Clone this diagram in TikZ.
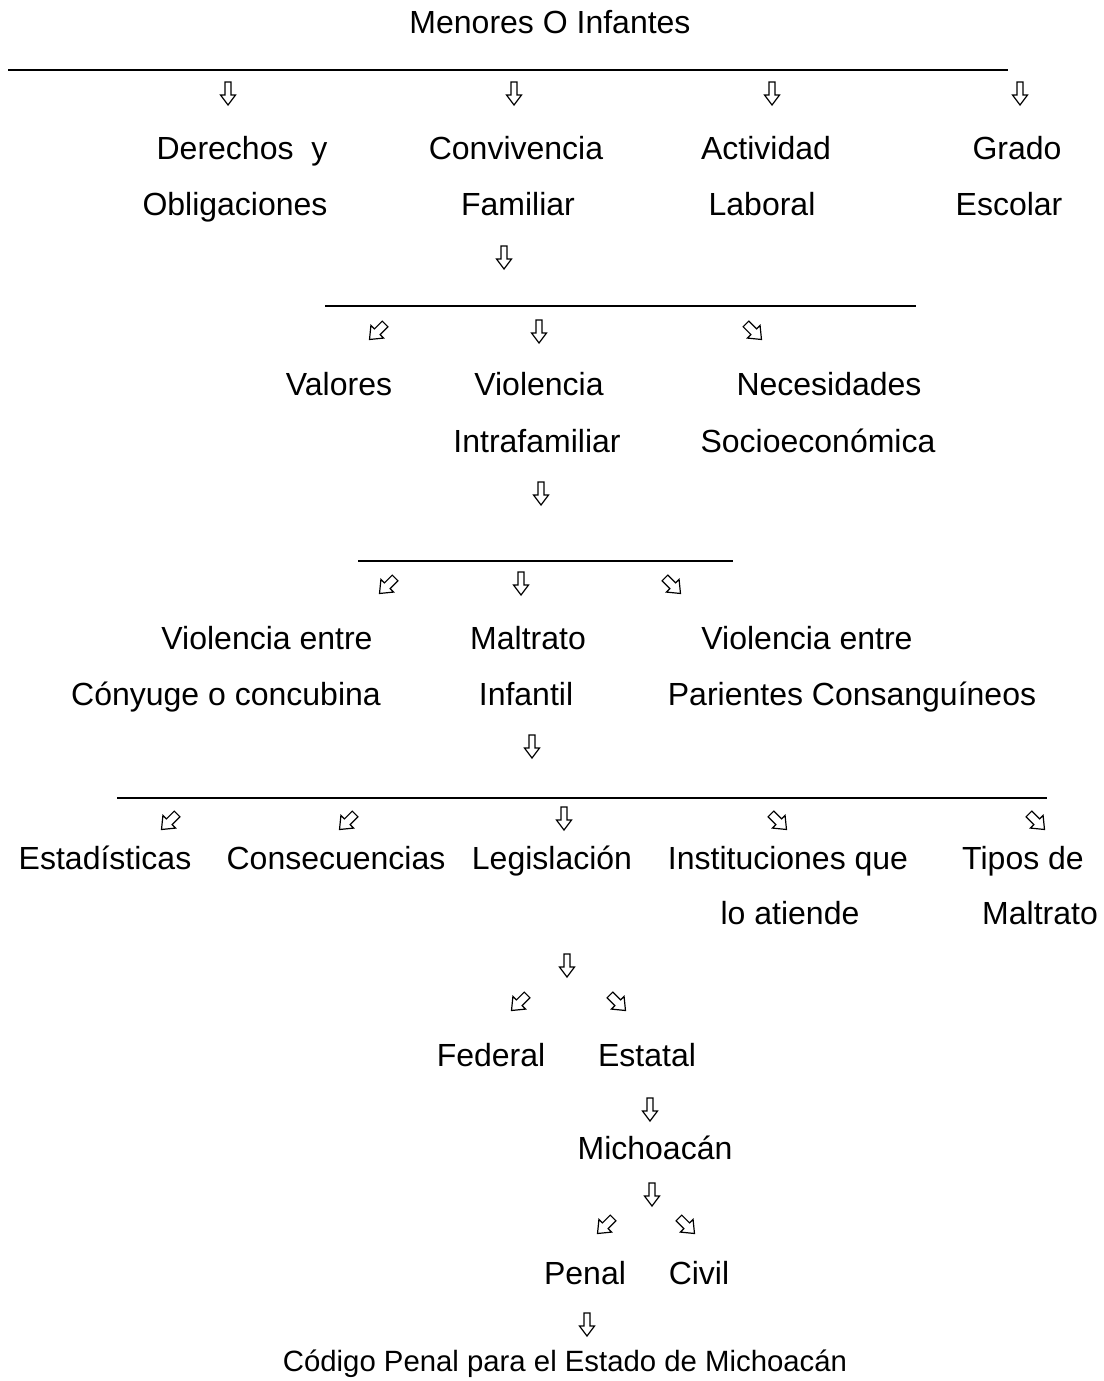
\documentclass[tikz,border=0pt]{standalone}
\usepackage{fontspec}
\setmainfont{Liberation Sans}
\usetikzlibrary{positioning}
\tikzset{
  txt/.style={anchor=base,inner sep=0pt,font=\fontsize{12}{14}\selectfont},
  raya/.style={line width=.6pt},
  flecha/.pic={\draw[line width=.45pt,line join=miter] (-3,-11)--(3,-11)--(3,2)--(7.5,2)--(0,12)--(-7.5,2)--(-3,2)--cycle;},
  flechad/.pic={\draw[line width=.45pt,line join=miter] (-4,-10)--(4,-10)--(4,1)--(9,1)--(0,12)--(-9,1)--(-4,1)--cycle;},
}
\begin{document}
\begin{tikzpicture}[x=0.375pt,y=-0.375pt]
\useasboundingbox (0,0) rectangle (1103,1381);
% nivel 1
\node[txt] (menores) at (550,33) {Menores O Infantes};
\coordinate (r1a) at (8,70);
\coordinate (r1b) at (1008,70);
\draw[raya] (r1a)--(r1b);
\foreach \x in {228,514,772,1020} \pic at (\x,93) {flecha};
\node[txt] (derechos) at (242,159) {Derechos\ \ y};
\node[txt] (obligaciones) at (235,215) {Obligaciones};
\node[txt] (convivencia) at (516,159) {Convivencia};
\node[txt] (familiar) at (518,215) {Familiar};
\node[txt] (actividad) at (766,159) {Actividad};
\node[txt] (laboral) at (762,215) {Laboral};
\node[txt] (grado) at (1017,159) {Grado};
\node[txt] (escolar) at (1009,215) {Escolar};
% nivel 2
\pic at (504,257) {flecha};
\coordinate (r2a) at (325,306);
\coordinate (r2b) at (916,306);
\draw[raya] (r2a)--(r2b);
\pic[rotate=-45] at (378,331) {flechad};
\pic at (539,331) {flecha};
\pic[rotate=45] at (753,331) {flechad};
\node[txt] (valores) at (339,395) {Valores};
\node[txt] (violencia) at (539,395) {Violencia};
\node[txt] (intrafamiliar) at (537,452) {Intrafamiliar};
\node[txt] (necesidades) at (829,395) {Necesidades};
\node[txt] (socioeco) at (818,452) {Socioeconómica};
% nivel 3
\pic at (541,493) {flecha};
\coordinate (r3a) at (358,561);
\coordinate (r3b) at (733,561);
\draw[raya] (r3a)--(r3b);
\pic[rotate=-45] at (388,585) {flechad};
\pic at (521,583) {flecha};
\pic[rotate=45] at (672,585) {flechad};
\node[txt] (ventreA) at (267,649) {Violencia entre};
\node[txt] (conyuge) at (226,705) {Cónyuge o concubina};
\node[txt] (maltrato) at (528,649) {Maltrato};
\node[txt] (infantil) at (526,705) {Infantil};
\node[txt] (ventreB) at (807,649) {Violencia entre};
\node[txt] (parientes) at (852,705) {Parientes Consanguíneos};
% nivel 4
\pic at (532,746) {flecha};
\coordinate (r4a) at (117,798);
\coordinate (r4b) at (1047,798);
\draw[raya] (r4a)--(r4b);
\pic[rotate=-45] at (170,821) {flechad};
\pic[rotate=-45] at (348,821) {flechad};
\pic at (564,818) {flecha};
\pic[rotate=45] at (778,821) {flechad};
\pic[rotate=45] at (1036,821) {flechad};
\node[txt] (estadisticas) at (105,869) {Estadísticas};
\node[txt] (consecuencias) at (336,869) {Consecuencias};
\node[txt] (legislacion) at (552,869) {Legislación};
\node[txt] (instituciones) at (788,869) {Instituciones que};
\node[txt] (atiende) at (790,924) {lo atiende};
\node[txt] (tipos) at (1023,869) {Tipos de};
\node[txt] (maltratoB) at (1040,924) {Maltrato};
% legislacion
\pic at (567,965) {flecha};
\pic[rotate=-45] at (520,1002) {flechad};
\pic[rotate=45] at (617,1002) {flechad};
\node[txt] (federal) at (491,1066) {Federal};
\node[txt] (estatal) at (647,1066) {Estatal};
\pic at (650,1109) {flecha};
\node[txt] (michoacan) at (655,1159) {Michoacán};
\pic at (652,1194) {flecha};
\pic[rotate=-45] at (606,1225) {flechad};
\pic[rotate=45] at (686,1225) {flechad};
\node[txt] (penal) at (585,1284) {Penal};
\node[txt] (civil) at (699,1284) {Civil};
\pic at (587,1324) {flecha};
\node[txt,font=\fontsize{11}{13}\selectfont] (codigo) at (565,1371) {Código Penal para el Estado de Michoacán};
\end{tikzpicture}
\end{document}
